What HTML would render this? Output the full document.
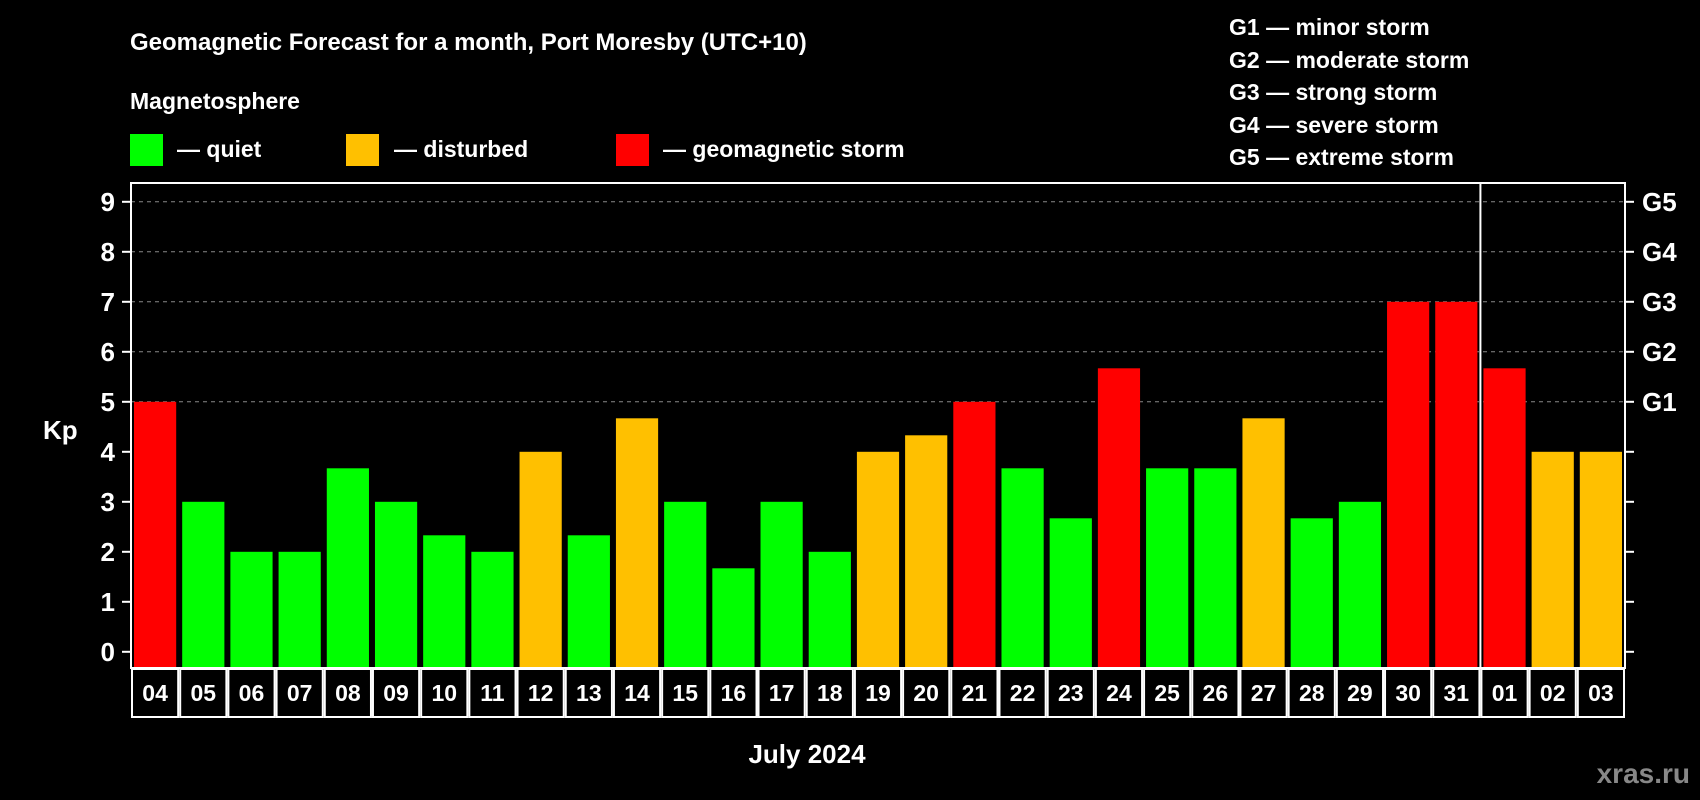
<!DOCTYPE html>
<html><head><meta charset="utf-8"><style>
html,body{margin:0;padding:0;background:#000;}
svg{display:block;font-family:"Liberation Sans",Arial,sans-serif;font-weight:bold;}
</style></head><body>
<svg id="chart" width="1700" height="800" viewBox="0 0 1700 800" xmlns="http://www.w3.org/2000/svg">
<rect width="1700" height="800" fill="#000"/>
<text x="130" y="50" fill="#fff" font-size="24">Geomagnetic Forecast for a month, Port Moresby (UTC+10)</text>
<text x="130" y="109" fill="#fff" font-size="23">Magnetosphere</text>
<g><rect x="130" y="134" width="33" height="32" fill="#00ff00"/><text x="177" y="157" fill="#fff" font-size="23">— quiet</text></g>
<g><rect x="346" y="134" width="33" height="32" fill="#ffc000"/><text x="394" y="157" fill="#fff" font-size="23">— disturbed</text></g>
<g><rect x="616" y="134" width="33" height="32" fill="#ff0000"/><text x="663" y="157" fill="#fff" font-size="23">— geomagnetic storm</text></g>
<g fill="#fff" font-size="23">
<text x="1229" y="35">G1 — minor storm</text>
<text x="1229" y="68">G2 — moderate storm</text>
<text x="1229" y="100">G3 — strong storm</text>
<text x="1229" y="133">G4 — severe storm</text>
<text x="1229" y="165">G5 — extreme storm</text>
</g>
<text x="43" y="439" fill="#fff" font-size="26">Kp</text>
<text x="807" y="763" fill="#fff" font-size="26" text-anchor="middle">July 2024</text>
<text x="1690" y="783" fill="#888" font-size="28" text-anchor="end">xras.ru</text>
<g id="plot"></g>
</svg>
<script>
const days = ["04","05","06","07","08","09","10","11","12","13","14","15","16","17","18","19","20","21","22","23","24","25","26","27","28","29","30","31","01","02","03"];
const kpValues = [5,3,2,2,3.67,3,2.33,2,4,2.33,4.67,3,1.67,3,2,4,4.33,5,3.67,2.67,5.67,3.67,3.67,4.67,2.67,3,7,7,5.67,4,4];
const yTicks = [0,1,2,3,4,5,6,7,8,9];
const gLabels = ["","","","","","G1","G2","G3","G4","G5"];
const monthBreak = 28;

const L=131, R=1625, T=183, B=668, y0=651.8, unit=50;
const band=(R-L)/days.length;
const xs=i=>L+i*band;
const ys=v=>y0-v*unit;
const NS="http://www.w3.org/2000/svg";
const g=document.getElementById('plot');
function mk(tag,attrs){const e=document.createElementNS(NS,tag);for(const k in attrs)e.setAttribute(k,attrs[k]);g.appendChild(e);return e;}
function col(v){return v>=5?"#ff0000":(v>=4?"#ffc000":"#00ff00");}

yTicks.forEach((t,i)=>{
  if(t>=5){const l=mk('line',{x1:L,x2:R,y1:ys(t),y2:ys(t),stroke:"#888","stroke-width":1,"stroke-dasharray":"4,4"});
  
  }
  const tl=mk('line',{x1:L-9,x2:L,y1:ys(t),y2:ys(t),stroke:"#fff","stroke-width":2});
  
  
  const tr=mk('line',{x1:R,x2:R+9,y1:ys(t),y2:ys(t),stroke:"#fff","stroke-width":2});
  
  
  const tx=mk('text',{x:L-16,y:ys(t)+9,fill:"#fff","font-size":26,"text-anchor":"end"});
  tx.textContent=t;
  
  
  if(gLabels[i]){const gt=mk('text',{x:R+17,y:ys(t)+9,fill:"#fff","font-size":26});
  gt.textContent=gLabels[i];
  
  }
});

kpValues.forEach((v,i)=>{
  const b=mk('rect',{x:xs(i)+3,y:ys(v),width:band-6,height:B-ys(v),fill:col(v)});
  
  
  const c=mk('rect',{x:xs(i)+1,y:B+1,width:band-2,height:48,fill:"none",stroke:"#fff","stroke-width":2});
  
  
  const t=mk('text',{x:xs(i)+band/2,y:B+33,fill:"#fff","font-size":23,"text-anchor":"middle"});
  t.textContent=days[i];
  
  
});

const sep=mk('line',{x1:xs(monthBreak),x2:xs(monthBreak),y1:T,y2:B,stroke:"#fff","stroke-width":2});


const frame=mk('rect',{x:L,y:T,width:R-L,height:B-T,fill:"none",stroke:"#fff","stroke-width":2});


</script>
</body></html>
